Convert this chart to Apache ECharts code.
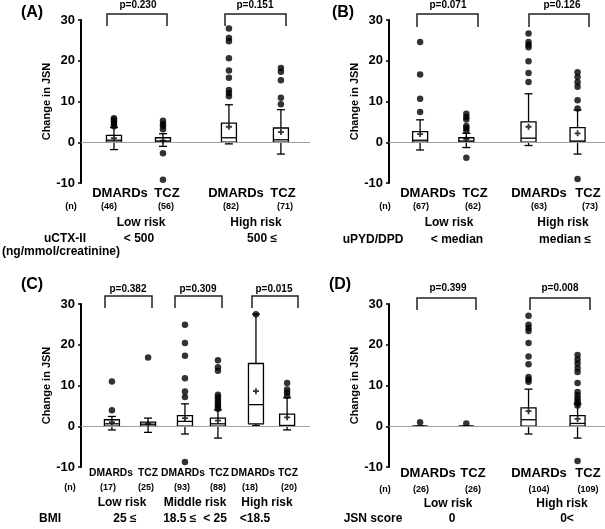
<!DOCTYPE html>
<html><head><meta charset="utf-8">
<script src="https://cdn.jsdelivr.net/npm/echarts/dist/echarts.min.js"></script>
<style>html,body{margin:0;padding:0;background:#fff}#c{width:605px;height:529px}</style>
</head><body><div id="c"></div>
<script>
// ---------- DATA ----------
// box = [min(whisker), Q1, median, Q3, max(whisker)]
const boxA = [[-1.8,0,0.5,1.7,3.6],[-1.0,0,0.3,1.1,2.1],[-0.4,0,1.1,4.7,9.2],[-2.9,0,0.6,3.5,8.0]];
const meanA = [1.0,0.4,3.8,2.5];
const outA = [[3.9,4.3,4.7,5.1,5.5,5.9],[-9.2,-2.7,3.2,4.0,4.5,5.3],[11.3,12.1,12.8,15.8,17.6,20.6,24.8,25.6,27.9],[9.3,10.9,15.2,17.3,18.2]];
const nA = ['(46)','(56)','(82)','(71)'];
const pA = ['p=0.230','p=0.151'];

const boxB = [[-1.9,0,0.5,2.6,5.5],[-1.3,0,0.3,1.1,2.2],[-0.8,0,1.0,5.0,11.9],[-2.9,0,0.3,3.6,7.9]];
const meanB = [2.0,0.8,3.8,2.2];
const outB = [[7.4,10.7,16.6,24.6],[-3.8,2.8,3.5,4.0,5.6,6.2,7.0],[14.8,17.0,19.9,23.3,23.9,24.6,26.7],[-9.0,8.3,10.3,13.6,14.7,16.0,17.2]];
const nB = ['(67)','(62)','(63)','(73)'];
const pB = ['p=0.071','p=0.126'];

const boxC = [[-0.9,0,0.6,1.6,2.4],[-1.5,0,0.5,1.0,2.0],[-1.9,0,1.2,2.6,5.5],[-2.9,0,0.6,2.0,4.0],[0.2,0.6,5.3,15.4,27.5],[-0.9,0,0.2,3.0,7.0]];
const meanC = [1.0,0.6,2.0,1.4,8.6,2.2];
const outC = [[3.9,11.0],[16.9],[-8.8,7.2,8.5,11.8,17.3,20.4,24.9],[4.3,4.8,5.3,5.9,6.5,7.1,7.7,13.6,14.5,16.2],[27.5],[7.5,8.3,9.0,10.6]];
const nC = ['(17)','(25)','(93)','(88)','(18)','(20)'];
const pC = ['p=0.382','p=0.309','p=0.015'];

const boxD = [[0,0,0,0,0],[0,0,0,0,0],[-1.9,0,1.6,4.5,9.1],[-2.9,0,0.7,2.6,5.5]];
const meanD = [null,null,3.7,1.8];
const outD = [[1.0],[0.7],[10.9,11.5,12.1,15.2,17.1,20.4,23.4,24.1,24.9,27.1],[-8.5,5.1,5.7,6.2,6.8,7.6,8.4,10.6,13.3,14.3,15.4,16.4,17.5]];
const nD = ['(26)','(26)','(104)','(109)'];
const pD = ['p=0.399','p=0.008'];

const treat2 = ['DMARDs','TCZ','DMARDs','TCZ'];
const treat3 = ['DMARDs','TCZ','DMARDs','TCZ','DMARDs','TCZ'];
const risk2 = ['Low risk','High risk'];
const risk3 = ['Low risk','Middle risk','High risk'];
const critA = ['uCTX-II','< 500','500 ≤'];
const critB = ['uPYD/DPD','< median','median ≤'];
const critC = ['BMI','25 ≤','18.5 ≤  < 25','<18.5'];
const critD = ['JSN score','0','0<'];
const yTicks = [-10,0,10,20,30];

// ---------- LAYOUT ----------
const FONT = '"Liberation Sans", Arial, Helvetica, sans-serif';
const slots4 = [14.4, 35.8, 64.6, 87.3];
const slots6 = [13.5, 29.3, 45.4, 59.8, 76.4, 90.0];
const GW = 229, GH = 163;
const panels = [
  {box:boxA, mean:meanA, out:outA, left:81, top:20, slots:slots4, gap:25},
  {box:boxB, mean:meanB, out:outB, left:389, top:20, slots:slots4, gap:23},
  {box:boxC, mean:meanC, out:outC, left:81, top:304, slots:slots6, gap:25},
  {box:boxD, mean:meanD, out:outD, left:389, top:304, slots:slots4, gap:23}
];

function renderBox(params, api){
  const x = api.value(0);
  const p = [1,2,3,4,5].map(i => api.coord([x, api.value(i)]));
  const cx = p[0][0], hw = 7.5, cw = 4;
  const st = {stroke:'#000', lineWidth:1.3, fill:null};
  const ln = (x1,y1,x2,y2) => ({type:'line', shape:{x1,y1,x2,y2}, style:st});
  return {type:'group', children:[
    ln(cx,p[4][1],cx,p[3][1]),
    ln(cx,p[1][1],cx,p[0][1]),
    ln(cx-cw,p[4][1],cx+cw,p[4][1]),
    ln(cx-cw,p[0][1],cx+cw,p[0][1]),
    {type:'rect', shape:{x:cx-hw, y:p[3][1], width:2*hw, height:p[1][1]-p[3][1]}, style:{stroke:'#000', lineWidth:1.3, fill:'#fff'}},
    ln(cx-hw,p[2][1],cx+hw,p[2][1])
  ]};
}

const grids = [], xAxes = [], yAxes = [], series = [];
panels.forEach((pn, i) => {
  grids.push({left:pn.left, top:pn.top, width:GW, height:GH});
  xAxes.push({type:'value', gridIndex:i, min:0, max:100, show:false});
  yAxes.push({type:'value', gridIndex:i, min:yTicks[0], max:yTicks[yTicks.length-1], interval:10,
    name:'Change in JSN', nameLocation:'middle', nameGap:pn.gap, nameRotate:90,
    nameTextStyle:{fontFamily:FONT, fontWeight:'bold', fontSize:11, color:'#000'},
    axisLine:{show:true, lineStyle:{color:'#000', width:2}},
    axisTick:{show:true, length:3, lineStyle:{color:'#000', width:1.5}},
    axisLabel:{fontFamily:FONT, fontWeight:'bold', fontSize:13, color:'#000', margin:6},
    splitLine:{show:false}});
  series.push({type:'custom', xAxisIndex:i, yAxisIndex:i, renderItem:renderBox, z:3,
    data: pn.box.map((b,k) => [pn.slots[k], ...b]),
    markLine:{silent:true, symbol:'none', label:{show:false}, animation:false,
      lineStyle:{color:'#a0a0a0', width:1, type:'solid'}, data:[{yAxis:0}]}});
  const od = [];
  pn.out.forEach((arr,k) => arr.forEach(v => od.push([pn.slots[k], v])));
  series.push({type:'scatter', xAxisIndex:i, yAxisIndex:i, data:od, symbol:'circle', symbolSize:6.5,
    itemStyle:{color:'#000'}, z:4});
  const md = [];
  pn.mean.forEach((v,k) => { if (v !== null) md.push([pn.slots[k], v]); });
  series.push({type:'scatter', xAxisIndex:i, yAxisIndex:i, data:md, z:5,
    symbol:'path://M3.5,0H6.5V3.5H10V6.5H6.5V10H3.5V6.5H0V3.5H3.5Z', symbolSize:6, itemStyle:{color:'#000'}});
});

// ---------- ANNOTATIONS ----------
const graphics = [];
function txt(t, x, y, size){
  graphics.push({type:'text', x, y, z:10, style:{text:t, font:'bold '+size+'px '+FONT, fill:'#000',
    textAlign:'center', align:'center', textVerticalAlign:'middle', verticalAlign:'middle'}});
}
function bracket(x1, x2, yTop, yLeg){
  graphics.push({type:'polyline', z:10, shape:{points:[[x1,yLeg],[x1,yTop],[x2,yTop],[x2,yLeg]]},
    style:{stroke:'#222', lineWidth:1.5, fill:null}});
}
// panel labels
txt('(A)', 32, 13, 16); txt('(B)', 343, 13, 16); txt('(C)', 32, 285, 16); txt('(D)', 340, 285, 16);
// p-values and brackets
txt(pA[0],138,5,10); txt(pA[1],255,5,10); bracket(107,167,14,26); bracket(225,286,14,26);
txt(pB[0],448,5,10); txt(pB[1],562,5,10); bracket(417,478,14,27); bracket(529,589,14,27);
txt(pC[0],128,289,10); txt(pC[1],198,289,10); txt(pC[2],274,289,10);
bracket(105,152,296,308); bracket(175,222,296,308); bracket(252,298,296,308);
txt(pD[0],448,288,10); txt(pD[1],560,288,10); bracket(417,476,298,310); bracket(530,590,298,310);
// panel A text rows
[120,167,236,283].forEach((x,k)=>txt(treat2[k],x,193,13));
txt('(n)',71,207,9); [109,166,231,285].forEach((x,k)=>txt(nA[k],x,207,9));
txt(risk2[0],141,223,12); txt(risk2[1],256,223,12);
txt(critA[0],65,239,12); txt(critA[1],139,239,12); txt(critA[2],262,239,12);
txt('(ng/mmol/creatinine)',61,252,12);
// panel B
[428,475,539,588].forEach((x,k)=>txt(treat2[k],x,193,13));
txt('(n)',385,207,9); [421,473,539,590].forEach((x,k)=>txt(nB[k],x,207,9));
txt(risk2[0],449,223,12); txt(risk2[1],563,223,12);
txt(critB[0],373,240,12); txt(critB[1],457,240,12); txt(critB[2],565,240,12);
// panel C
[111,148,183,219,253,288].forEach((x,k)=>txt(treat3[k],x,473,10.3));
txt('(n)',70,488,9); [108,146,182,218,250,289].forEach((x,k)=>txt(nC[k],x,488,9));
txt(risk3[0],122,503,12); txt(risk3[1],195,503,12); txt(risk3[2],267,503,12);
txt(critC[0],50,519,12); txt(critC[1],125,519,12); txt(critC[2],195,519,12); txt(critC[3],255,519,12);
// panel D
[428,473,539,588].forEach((x,k)=>txt(treat2[k],x,473,13));
txt('(n)',385,490,9); [421,473,539,588].forEach((x,k)=>txt(nD[k],x,490,9));
txt(risk2[0],448,504,12); txt(risk2[1],562,504,12);
txt(critD[0],373,519,12); txt(critD[1],452,519,12); txt(critD[2],567,519,12);

const chart = echarts.init(document.getElementById('c'), null, {renderer:'canvas'});
chart.setOption({animation:false, backgroundColor:'#fff', grid:grids, xAxis:xAxes, yAxis:yAxes,
  series:series, graphic:graphics});
</script></body></html>
